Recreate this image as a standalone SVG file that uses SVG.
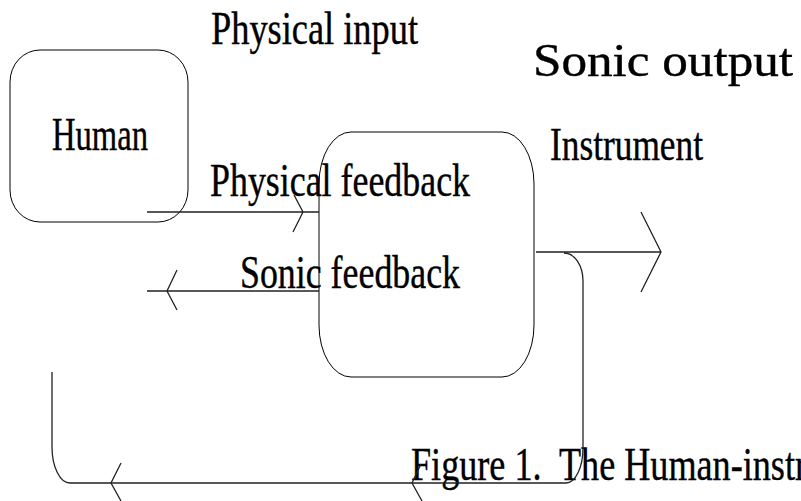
<svg xmlns="http://www.w3.org/2000/svg" width="801" height="501" viewBox="0 0 801 501">
<style>
.t{font-family:"Liberation Serif","Times New Roman",serif;font-size:46px;fill:#000;stroke:#000;stroke-width:0.4}
.box{fill:none;stroke:#000;stroke-width:1}
.ln{fill:none;stroke:#222;stroke-width:1.3}
</style>
<rect width="801" height="501" fill="#fff"/>
<g id="labels">
<text class="t" x="211" y="44" textLength="207" lengthAdjust="spacingAndGlyphs">Physical input</text>
<text class="t" x="533" y="76" textLength="260" lengthAdjust="spacingAndGlyphs" font-size="48">Sonic output</text>
<text class="t" x="550" y="160" textLength="153" lengthAdjust="spacingAndGlyphs">Instrument</text>
<text class="t" x="210" y="196" textLength="260" lengthAdjust="spacingAndGlyphs">Physical feedback</text>
<text class="t" x="240" y="288" textLength="220" lengthAdjust="spacingAndGlyphs">Sonic feedback</text>
<text class="t" x="411" y="480" xml:space="preserve" textLength="396" lengthAdjust="spacingAndGlyphs">Figure 1.  The Human-instr</text>
</g>
<g id="human">
<rect class="box" x="10" y="50" width="178" height="172" rx="30" ry="32"/>
<text class="t" x="52" y="150" textLength="96" lengthAdjust="spacingAndGlyphs">Human</text>
</g>
<g id="instrument">
<rect class="box" x="319" y="132" width="215" height="245" rx="32" ry="52"/>
</g>
<g id="connectors">
<path class="ln" d="M147,212 H319 M294,195 L303,212 L293,232"/>
<path class="ln" d="M147,291 H319 M177,270 L167,291 L177,310"/>
<path class="ln" d="M536,252 H661 M641,212 L661,252 L641,292"/>
<path class="ln" d="M564,253 A19,28 0 0 1 583,281 V448 A17,35 0 0 1 566,483 H70 A18,36 0 0 1 52,447 V372"/>
<path class="ln" d="M121,463 L111,483 L121,501 M421,464 L412,483 L422,501"/>
</g>
</svg>
